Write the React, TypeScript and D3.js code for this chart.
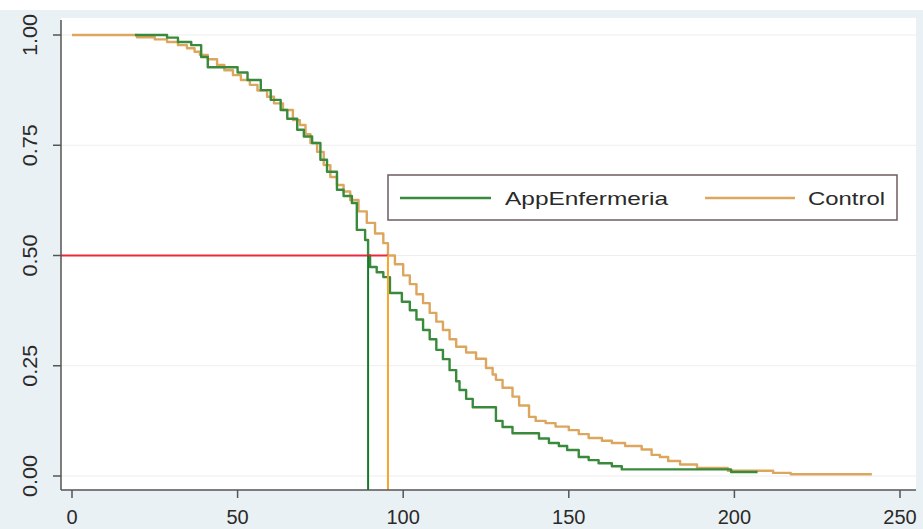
import React from 'react';
import * as d3 from 'd3';

// Kaplan-Meier steps: [time, survival after step]
const appEnfermeria: [number, number][] = [
  [19, 1.0], [28.7, 0.994], [32, 0.984], [36, 0.977], [39, 0.95], [41, 0.927],
  [50, 0.915], [53, 0.898], [57, 0.875], [60, 0.853], [63, 0.83], [65, 0.81],
  [68, 0.785], [70, 0.77], [72.5, 0.755], [75, 0.717], [77, 0.69], [80, 0.649],
  [82, 0.635], [84.5, 0.619], [86, 0.558], [88.5, 0.535], [89.4, 0.5], [90, 0.474],
  [92, 0.462], [94, 0.451], [96, 0.415], [99.6, 0.395], [102, 0.376], [104, 0.355],
  [106, 0.331], [108, 0.31], [110, 0.286], [112, 0.265], [114, 0.24], [116, 0.215],
  [117, 0.195], [119, 0.175], [121, 0.156], [128, 0.125], [130, 0.111], [133, 0.097],
  [141, 0.085], [144, 0.075], [147, 0.068], [149.5, 0.059], [153, 0.043], [156, 0.036],
  [159, 0.029], [163, 0.022], [166, 0.015], [199, 0.009], [207, 0.009],
];

const control: [number, number][] = [
  [0, 1.0], [19.6, 0.995], [25, 0.99], [28.7, 0.984], [32, 0.977], [34.7, 0.97],
  [37, 0.962], [38.6, 0.955], [41, 0.945], [43.8, 0.932], [46, 0.92], [48.6, 0.909],
  [51, 0.898], [53.7, 0.887], [56, 0.874], [58.9, 0.86], [61, 0.845], [63.7, 0.83],
  [66.7, 0.807], [68.8, 0.796], [70.5, 0.775], [72, 0.755], [74, 0.735], [76, 0.705],
  [78, 0.678], [80, 0.66], [82, 0.645], [84, 0.626], [86.5, 0.6], [89, 0.574],
  [91.5, 0.55], [94, 0.528], [95.4, 0.5], [97.5, 0.48], [100, 0.455], [102, 0.435],
  [104, 0.412], [106, 0.392], [108, 0.37], [110, 0.35], [112, 0.331], [114, 0.31],
  [116, 0.293], [119, 0.28], [122, 0.266], [125, 0.245], [127, 0.23], [128, 0.218],
  [130, 0.2], [133, 0.18], [135, 0.16], [138, 0.134], [140, 0.125], [143, 0.12],
  [146, 0.112], [150, 0.104], [153, 0.095], [156, 0.086], [160, 0.08], [163, 0.075],
  [167, 0.068], [172, 0.06], [175, 0.048], [177.5, 0.043], [180, 0.034], [183.6, 0.026],
  [188.7, 0.018], [198, 0.012], [211.7, 0.007], [217, 0.004], [241.5, 0.004],
];

const medianApp = 89.4;
const medianControl = 95.4;
const xTicks = [0, 50, 100, 150, 200, 250];
const yTicks = [0, 0.25, 0.5, 0.75, 1];
const seriesNames = ['AppEnfermeria', 'Control'];

const W = 923, H = 529;
const plotL = 61, plotR = 916, plotT = 18, plotB = 490;

const App = () => {
  const x = d3.scaleLinear().domain([0, 250]).range([72, 900]);
  const y = d3.scaleLinear().domain([0, 1]).range([476, 35]);

  const line = d3.line<[number, number]>()
    .x((d) => x(d[0]))
    .y((d) => y(d[1]))
    .curve(d3.curveStepAfter);

  const font = 'Liberation Sans, Arial, sans-serif';

  return (
    <svg width={W} height={H} style={{ position: 'absolute', left: 0, top: 0 }}>
      <rect x={0} y={0} width={W} height={H} fill="#ffffff" />
      <rect x={0} y={10} width={W} height={H - 10} fill="#eaf1f4" />
      <rect x={plotL} y={plotT} width={plotR - plotL} height={plotB - plotT} fill="#ffffff" />

      {yTicks.map((t) => (
        <line key={'g' + t} x1={plotL} x2={plotR} y1={y(t)} y2={y(t)} stroke="#eeeeee" strokeWidth={1.2} />
      ))}

      <path d={line(control) || ''} fill="none" stroke="#dca65e" strokeWidth={2.4} strokeLinejoin="round" />
      <path d={line(appEnfermeria) || ''} fill="none" stroke="#3a8a3c" strokeWidth={2.4} strokeLinejoin="round" />

      <line x1={plotL} x2={x(medianControl)} y1={y(0.5)} y2={y(0.5)} stroke="#e8283c" strokeWidth={2} />
      <line x1={x(medianApp)} x2={x(medianApp)} y1={y(0.5)} y2={plotB} stroke="#127a2a" strokeWidth={2} />
      <line x1={x(medianControl)} x2={x(medianControl)} y1={y(0.5)} y2={plotB} stroke="#f7a42c" strokeWidth={2} />

      {/* axes */}
      <line x1={plotL} x2={plotL} y1={plotT + 2} y2={plotB} stroke="#555" strokeWidth={1.5} />
      <line x1={plotL} x2={plotR} y1={plotB} y2={plotB} stroke="#555" strokeWidth={1.5} />
      {yTicks.map((t) => (
        <g key={'y' + t}>
          <line x1={plotL - 8} x2={plotL} y1={y(t)} y2={y(t)} stroke="#555" strokeWidth={1.5} />
          <text
            transform={`translate(37,${y(t)}) rotate(-90)`}
            textAnchor="middle"
            fontFamily={font}
            fontSize={20}
            fill="#2a2a2a"
            textLength={42}
            lengthAdjust="spacingAndGlyphs"
          >
            {t.toFixed(2)}
          </text>
        </g>
      ))}
      {xTicks.map((t) => (
        <g key={'x' + t}>
          <line x1={x(t)} x2={x(t)} y1={plotB} y2={plotB + 8} stroke="#555" strokeWidth={1.5} />
          <text x={x(t)} y={524} textAnchor="middle" fontFamily={font} fontSize={20} fill="#2a2a2a">
            {t}
          </text>
        </g>
      ))}

      {/* legend */}
      <rect x={388} y={175} width={509} height={45} fill="#ffffff" stroke="#6f5b5e" strokeWidth={1.5} />
      <line x1={400} x2={491} y1={198} y2={198} stroke="#3a8a3c" strokeWidth={2.5} />
      <text x={505} y={205} fontFamily={font} fontSize={19} fill="#2a2a2a" textLength={163} lengthAdjust="spacingAndGlyphs">
        {seriesNames[0]}
      </text>
      <line x1={705} x2={795} y1={198} y2={198} stroke="#dca65e" strokeWidth={2.5} />
      <text x={808} y={205} fontFamily={font} fontSize={19} fill="#2a2a2a" textLength={77} lengthAdjust="spacingAndGlyphs">
        {seriesNames[1]}
      </text>
    </svg>
  );
};

export default App;
